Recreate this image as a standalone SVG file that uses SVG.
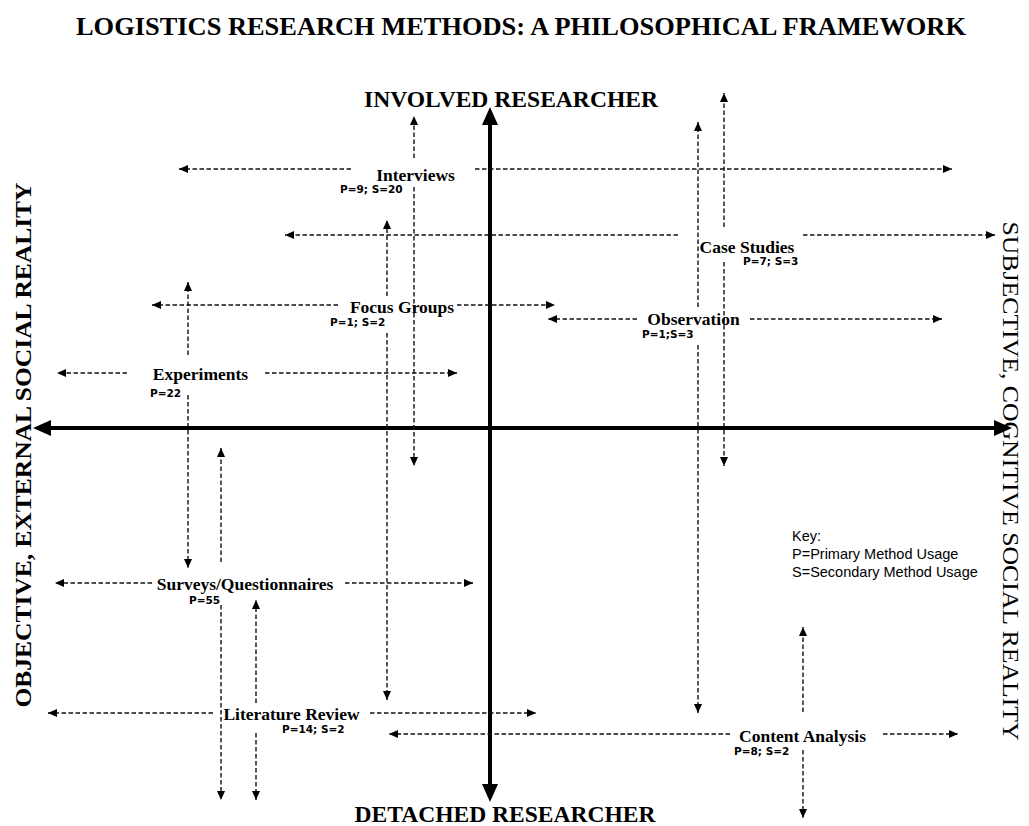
<svg xmlns="http://www.w3.org/2000/svg" width="1029" height="826" viewBox="0 0 1029 826">
  <style>
    .title { font-family: "Liberation Serif", "Times New Roman", serif; font-weight: bold; fill: #000; }
    .method { font-family: "Liberation Serif", "Times New Roman", serif; font-weight: bold; font-size: 17.5px; fill: #000; text-anchor: middle; }
    .count { font-family: "DejaVu Sans", "Liberation Sans", sans-serif; font-weight: bold; font-size: 10.5px; fill: #000; }
    .key { font-family: "Liberation Sans", Arial, sans-serif; font-size: 14.5px; fill: #000; }
    .dash { stroke: #111; stroke-width: 1.4; stroke-dasharray: 4.5 2.5; fill: none; marker-end: url(#tip); }
    .axis { stroke: #000; stroke-width: 4; fill: none; marker-start: url(#bigtip); marker-end: url(#bigtip); }
  </style>
  <defs>
    <marker id="tip" viewBox="0 0 9 8" refX="9" refY="4" markerWidth="9" markerHeight="8" markerUnits="userSpaceOnUse" orient="auto">
      <path d="M0,0 L9,4 L0,8 z" fill="#000"/>
    </marker>
    <marker id="bigtip" viewBox="0 0 18 16" refX="4" refY="8" markerWidth="18" markerHeight="16" markerUnits="userSpaceOnUse" orient="auto-start-reverse">
      <path d="M0,0 L18,8 L0,16 z" fill="#000"/>
    </marker>
  </defs>

  <rect width="1029" height="826" fill="#fff"/>

  <!-- headings and axis labels -->
  <g id="headings">
    <text class="title" x="521" y="35" font-size="26" text-anchor="middle" textLength="890" lengthAdjust="spacingAndGlyphs">LOGISTICS RESEARCH METHODS: A PHILOSOPHICAL FRAMEWORK</text>
    <text class="title" x="511" y="107" font-size="22.5" text-anchor="middle" textLength="294" lengthAdjust="spacingAndGlyphs">INVOLVED RESEARCHER</text>
    <text class="title" x="505" y="822" font-size="22.5" text-anchor="middle" textLength="301" lengthAdjust="spacingAndGlyphs">DETACHED RESEARCHER</text>
    <text class="title" transform="translate(31,445) rotate(-90)" font-size="23" text-anchor="middle" textLength="525" lengthAdjust="spacingAndGlyphs">OBJECTIVE, EXTERNAL SOCIAL REALITY</text>
    <text transform="translate(1003,481) rotate(90)" font-family="'Liberation Serif', 'Times New Roman', serif" font-size="24" fill="#000" text-anchor="middle" textLength="519" lengthAdjust="spacingAndGlyphs">SUBJECTIVE, COGNITIVE SOCIAL REALITY</text>
  </g>

  <!-- main axes -->
  <g id="axes">
    <line class="axis" x1="490" y1="121" x2="490" y2="788"/>
    <line class="axis" x1="47" y1="428" x2="998" y2="428"/>
  </g>

  <!-- dashed range arrows for each method -->
  <g id="connectors">
    <!-- Interviews -->
    <line class="dash" x1="351" y1="169" x2="179" y2="169"/>
    <line class="dash" x1="475" y1="169" x2="952" y2="169"/>
    <line class="dash" x1="414" y1="158" x2="414" y2="116"/>
    <line class="dash" x1="414" y1="187" x2="414" y2="466"/>
    <!-- Case Studies -->
    <line class="dash" x1="678" y1="235" x2="285" y2="235"/>
    <line class="dash" x1="803" y1="235" x2="995" y2="235"/>
    <line class="dash" x1="724" y1="227" x2="724" y2="93"/>
    <line class="dash" x1="724" y1="262" x2="724" y2="466"/>
    <!-- Focus Groups -->
    <line class="dash" x1="338" y1="305" x2="152" y2="305"/>
    <line class="dash" x1="457" y1="305" x2="555" y2="305"/>
    <line class="dash" x1="387" y1="296" x2="387" y2="220"/>
    <line class="dash" x1="387" y1="333" x2="387" y2="700"/>
    <!-- Observation -->
    <line class="dash" x1="637" y1="319" x2="548" y2="319"/>
    <line class="dash" x1="750" y1="319" x2="942" y2="319"/>
    <line class="dash" x1="698" y1="307" x2="698" y2="122"/>
    <line class="dash" x1="698" y1="345" x2="698" y2="713"/>
    <!-- Experiments -->
    <line class="dash" x1="127" y1="373" x2="57" y2="373"/>
    <line class="dash" x1="265" y1="373" x2="457" y2="373"/>
    <line class="dash" x1="188" y1="355" x2="188" y2="282"/>
    <line class="dash" x1="188" y1="395" x2="188" y2="568"/>
    <!-- Surveys/Questionnaires -->
    <line class="dash" x1="152" y1="583" x2="55" y2="583"/>
    <line class="dash" x1="345" y1="583" x2="473" y2="583"/>
    <line class="dash" x1="221" y1="562" x2="221" y2="448"/>
    <line class="dash" x1="221" y1="605" x2="221" y2="800"/>
    <!-- Literature Review -->
    <line class="dash" x1="213" y1="713" x2="48" y2="713"/>
    <line class="dash" x1="370" y1="713" x2="536" y2="713"/>
    <line class="dash" x1="256" y1="703" x2="256" y2="600"/>
    <line class="dash" x1="256" y1="733" x2="256" y2="800"/>
    <!-- Content Analysis -->
    <line class="dash" x1="730" y1="734" x2="389" y2="734"/>
    <line class="dash" x1="883" y1="734" x2="958" y2="734"/>
    <line class="dash" x1="803" y1="712" x2="803" y2="627"/>
    <line class="dash" x1="803" y1="750" x2="803" y2="818"/>
  </g>

  <!-- method nodes -->
  <g id="interviews">
    <text class="method" x="415.5" y="181">Interviews</text>
    <text class="count" x="340" y="193">P=9; S=20</text>
  </g>
  <g id="case-studies">
    <text class="method" x="747" y="253">Case Studies</text>
    <text class="count" x="743" y="265">P=7; S=3</text>
  </g>
  <g id="focus-groups">
    <text class="method" x="402" y="313">Focus Groups</text>
    <text class="count" x="330" y="326">P=1; S=2</text>
  </g>
  <g id="observation">
    <text class="method" x="693.5" y="325">Observation</text>
    <text class="count" x="642" y="338">P=1;S=3</text>
  </g>
  <g id="experiments">
    <text class="method" x="200.5" y="380">Experiments</text>
    <text class="count" x="150" y="397">P=22</text>
  </g>
  <g id="surveys">
    <text class="method" x="245" y="590">Surveys/Questionnaires</text>
    <text class="count" x="189" y="604">P=55</text>
  </g>
  <g id="literature-review">
    <text class="method" x="291.5" y="720">Literature Review</text>
    <text class="count" x="282" y="733">P=14; S=2</text>
  </g>
  <g id="content-analysis">
    <text class="method" x="802.5" y="742">Content Analysis</text>
    <text class="count" x="734" y="755">P=8; S=2</text>
  </g>

  <!-- key -->
  <g id="key">
    <text class="key" x="792" y="541">Key:</text>
    <text class="key" x="792" y="559">P=Primary Method Usage</text>
    <text class="key" x="792" y="577">S=Secondary Method Usage</text>
  </g>
</svg>
